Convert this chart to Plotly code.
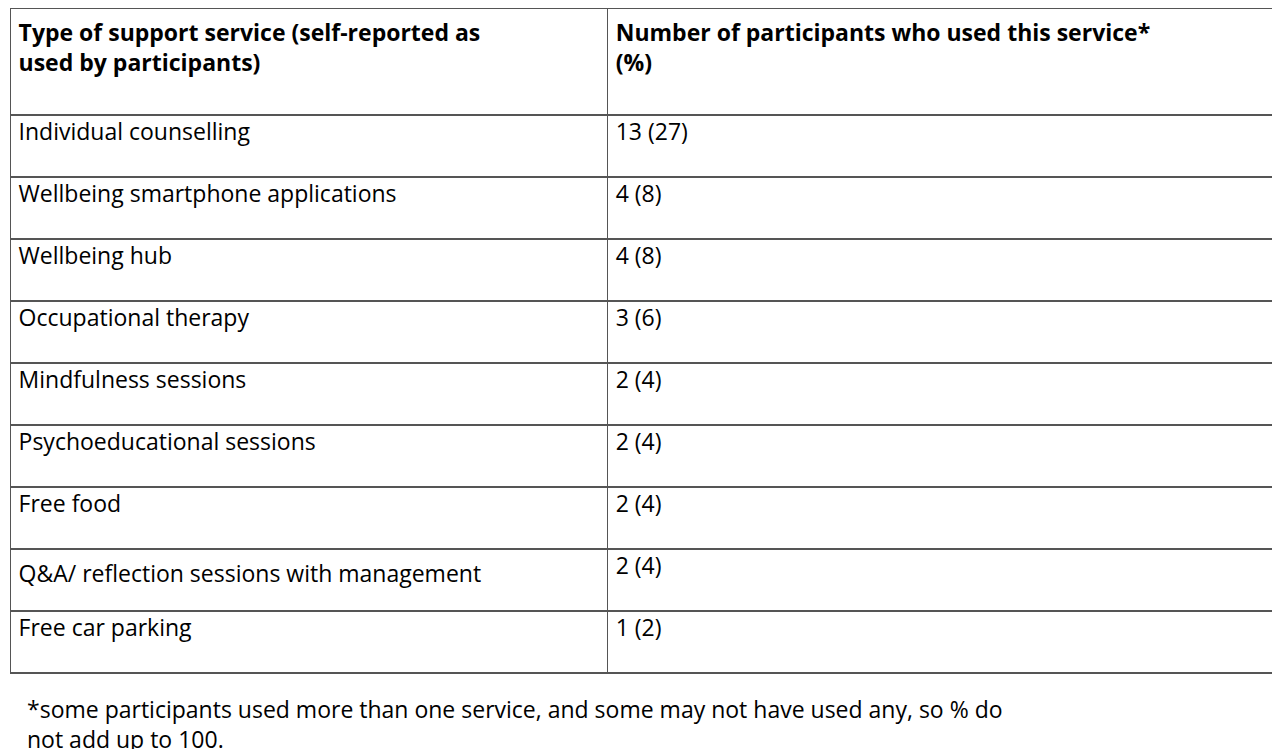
import plotly.graph_objects as go

header_left = "<b>Type of support service (self-reported as<br>used by participants)</b>"
header_right = "<b>Number of participants who used this service*<br>(%)</b>"

services = [
    "Individual counselling",
    "Wellbeing smartphone applications",
    "Wellbeing hub",
    "Occupational therapy",
    "Mindfulness sessions",
    "Psychoeducational sessions",
    "Free food",
    "Q&A/ reflection sessions with management",
    "Free car parking",
]
counts = [13, 4, 4, 3, 2, 2, 2, 2, 1]
percents = [27, 8, 8, 6, 4, 4, 4, 4, 2]

footnote = ("*some participants used more than one service, and some may not have used any, so % do<br>"
            "not add up to 100.")

values_right = [f"{n} ({p})" for n, p in zip(counts, percents)]
font = dict(family="Open Sans, Liberation Sans, sans-serif", size=23, color="black")
line = dict(color="#555555", width=1.2)

fig = go.Figure(go.Table(
    columnwidth=[599, 679],
    domain=dict(x=[0.002, 0.998], y=[0, 1]),
    header=dict(values=[header_left, header_right], align="left", height=107,
                fill_color="white", line=line, font=font),
    cells=dict(values=[services, values_right], align="left", height=62,
               fill_color="white", line=line, font=font),
))

fig.add_annotation(xref="paper", yref="paper", x=0.013, y=0.0, xanchor="left", yanchor="bottom",
                   text=footnote, showarrow=False, align="left", font=font)

fig.update_layout(width=1280, height=749, margin=dict(l=0, r=0, t=0, b=0),
                  paper_bgcolor="white", plot_bgcolor="white")

fig.write_html("out.html")
